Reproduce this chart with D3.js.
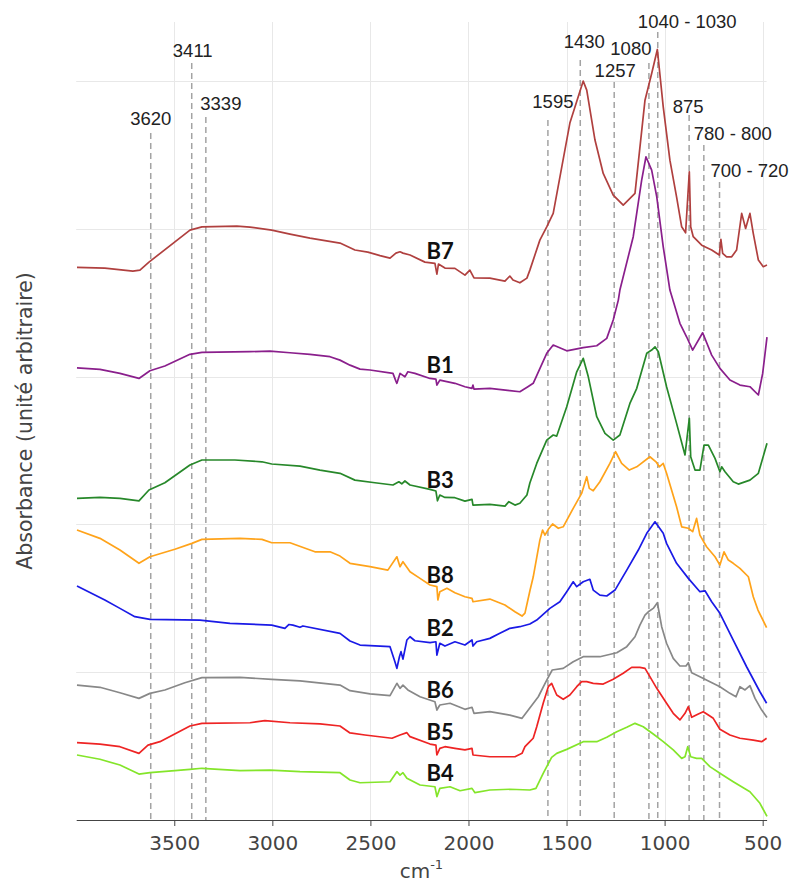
<!DOCTYPE html>
<html>
<head>
<meta charset="utf-8">
<script src="https://cdn.jsdelivr.net/npm/d3@7"></script>
<style>
  body { margin: 0; background: #fff; }
  svg { display: block; }
</style>
</head>
<body>
<svg id="chart" width="792" height="886"></svg>
<script>
// FTIR spectra, stacked with arbitrary vertical offsets: [wavenumber (cm-1), absorbance (a.u.)]
const B7 = [[3996,3.74],[3854,3.735],[3711,3.714],[3675,3.721],[3629,3.775],[3420,3.992],[3359,4.014],[3181,4.019],[3114,4.012],[3003,3.992],[2910,3.965],[2808,3.938],[2655,3.904],[2579,3.857],[2513,3.843],[2451,3.819],[2400,3.802],[2370,3.836],[2349,3.845],[2334,3.836],[2298,3.823],[2222,3.775],[2171,3.767],[2161,3.694],[2153,3.762],[2120,3.735],[2069,3.733],[2018,3.687],[1993,3.721],[1972,3.669],[1891,3.667],[1814,3.647],[1789,3.681],[1773,3.654],[1738,3.635],[1702,3.667],[1687,3.721],[1636,3.924],[1601,4.014],[1568,4.105],[1483,4.716],[1415,5.0],[1397,4.939],[1355,4.601],[1313,4.375],[1262,4.229],[1211,4.161],[1151,4.24],[1100,4.871],[1066,5.052],[1037,5.214],[1007,4.826],[973,4.465],[939,4.217],[913,4.014],[893,3.974],[874,4.386],[867,4.014],[854,3.947],[811,3.89],[760,3.857],[721,3.823],[713,3.929],[704,3.834],[684,3.811],[658,3.811],[633,3.857],[607,4.105],[587,4.003],[565,4.105],[548,3.97],[522,3.789],[497,3.744],[478,3.755]];

const B1 = [[3996,3.06],[3879,3.049],[3777,3.022],[3680,2.988],[3624,3.04],[3548,3.072],[3420,3.151],[3359,3.164],[3114,3.169],[3012,3.173],[2910,3.162],[2808,3.151],[2706,3.135],[2655,3.112],[2604,3.078],[2553,3.051],[2502,3.045],[2385,3.022],[2370,2.97],[2365,2.955],[2349,3.022],[2324,2.999],[2309,3.033],[2273,3.022],[2196,2.988],[2166,2.984],[2161,2.943],[2146,2.977],[2069,2.955],[2018,2.932],[1982,2.921],[1977,2.943],[1972,2.916],[1891,2.921],[1789,2.905],[1738,2.898],[1697,2.932],[1670,2.955],[1601,3.158],[1568,3.214],[1499,3.175],[1415,3.196],[1346,3.209],[1295,3.259],[1262,3.383],[1236,3.518],[1228,3.586],[1160,3.947],[1117,4.33],[1095,4.488],[1066,4.398],[1040,4.217],[1007,3.879],[973,3.586],[922,3.361],[888,3.27],[857,3.18],[806,3.297],[760,3.146],[718,3.056],[667,2.977],[616,2.943],[565,2.932],[522,2.876],[500,3.022],[478,3.268]];

const B3 = [[3996,2.177],[3879,2.183],[3777,2.177],[3680,2.16],[3629,2.233],[3548,2.282],[3420,2.402],[3359,2.436],[3191,2.436],[3053,2.424],[3003,2.409],[2859,2.395],[2757,2.368],[2655,2.346],[2579,2.3],[2477,2.282],[2385,2.267],[2355,2.289],[2340,2.275],[2324,2.294],[2298,2.267],[2196,2.237],[2166,2.226],[2158,2.16],[2146,2.199],[2120,2.183],[2069,2.181],[2018,2.158],[1982,2.17],[1977,2.131],[1891,2.136],[1814,2.124],[1794,2.154],[1763,2.131],[1738,2.143],[1702,2.199],[1687,2.28],[1652,2.413],[1601,2.571],[1568,2.605],[1550,2.598],[1499,2.796],[1448,3.033],[1415,3.124],[1389,2.999],[1346,2.729],[1304,2.616],[1262,2.571],[1228,2.605],[1177,2.819],[1142,2.921],[1091,3.158],[1066,3.18],[1049,3.202],[1032,3.169],[990,2.932],[939,2.684],[896,2.47],[874,2.718],[867,2.458],[845,2.368],[820,2.368],[799,2.537],[777,2.537],[743,2.447],[718,2.357],[709,2.39],[692,2.357],[650,2.289],[624,2.273],[565,2.3],[522,2.346],[478,2.549]];

const B8 = [[3996,1.962],[3879,1.906],[3777,1.827],[3680,1.737],[3624,1.781],[3497,1.832],[3410,1.872],[3359,1.899],[3165,1.906],[3053,1.899],[3003,1.876],[2910,1.876],[2783,1.815],[2706,1.815],[2655,1.786],[2604,1.737],[2502,1.714],[2411,1.691],[2365,1.781],[2349,1.714],[2334,1.748],[2298,1.68],[2247,1.635],[2196,1.59],[2161,1.579],[2156,1.489],[2146,1.545],[2110,1.568],[2069,1.538],[2018,1.511],[1982,1.5],[1977,1.477],[1891,1.495],[1814,1.455],[1763,1.409],[1727,1.38],[1712,1.4],[1687,1.55],[1670,1.644],[1636,1.894],[1622,1.962],[1610,1.928],[1593,1.967],[1571,2.003],[1542,1.974],[1517,1.984],[1466,2.109],[1423,2.21],[1397,2.323],[1384,2.244],[1364,2.228],[1330,2.289],[1279,2.413],[1250,2.492],[1219,2.413],[1180,2.368],[1142,2.39],[1075,2.458],[1044,2.424],[1027,2.39],[1007,2.413],[990,2.346],[939,2.12],[913,1.984],[879,1.974],[857,1.951],[837,2.041],[820,1.928],[786,1.849],[743,1.781],[718,1.725],[697,1.815],[675,1.759],[650,1.737],[616,1.703],[573,1.646],[548,1.511],[524,1.421],[480,1.302]];

const B2 = [[3996,1.583],[3854,1.489],[3777,1.432],[3701,1.376],[3624,1.358],[3369,1.353],[3216,1.331],[3003,1.319],[2936,1.297],[2915,1.323],[2895,1.319],[2859,1.304],[2844,1.313],[2655,1.263],[2604,1.211],[2553,1.184],[2400,1.173],[2375,1.071],[2365,1.026],[2352,1.105],[2344,1.139],[2334,1.089],[2314,1.218],[2298,1.24],[2273,1.213],[2196,1.2],[2166,1.206],[2161,1.116],[2146,1.196],[2120,1.177],[2069,1.206],[2018,1.184],[1982,1.218],[1977,1.177],[1958,1.206],[1891,1.229],[1840,1.263],[1789,1.297],[1738,1.308],[1687,1.326],[1652,1.353],[1585,1.432],[1534,1.477],[1499,1.545],[1466,1.612],[1448,1.579],[1415,1.612],[1381,1.629],[1364,1.556],[1330,1.522],[1295,1.516],[1253,1.556],[1193,1.691],[1134,1.827],[1091,1.94],[1049,2.018],[1007,1.94],[990,1.872],[939,1.737],[879,1.635],[820,1.545],[794,1.551],[760,1.477],[718,1.399],[650,1.218],[582,1.037],[514,0.868],[480,0.79]];

const B6 = [[3996,0.913],[3879,0.898],[3777,0.861],[3680,0.823],[3624,0.857],[3548,0.88],[3446,0.929],[3359,0.963],[3165,0.965],[3003,0.952],[2859,0.942],[2655,0.913],[2604,0.875],[2502,0.853],[2400,0.842],[2365,0.925],[2349,0.891],[2334,0.913],[2309,0.88],[2247,0.834],[2171,0.8],[2161,0.744],[2146,0.778],[2094,0.79],[2018,0.749],[1982,0.763],[1972,0.722],[1891,0.733],[1789,0.71],[1727,0.688],[1695,0.744],[1644,0.834],[1601,0.947],[1573,1.015],[1517,1.026],[1466,1.071],[1415,1.105],[1330,1.105],[1244,1.132],[1193,1.173],[1151,1.24],[1126,1.319],[1100,1.387],[1083,1.409],[1058,1.432],[1037,1.47],[1015,1.308],[990,1.196],[956,1.094],[922,1.042],[891,1.042],[879,1.064],[862,0.997],[820,0.97],[769,0.936],[718,0.902],[667,0.857],[636,0.834],[616,0.902],[590,0.88],[565,0.909],[539,0.823],[505,0.744],[478,0.694]];

const B5 = [[3996,0.523],[3879,0.514],[3777,0.496],[3680,0.451],[3634,0.507],[3573,0.53],[3420,0.636],[3359,0.654],[3114,0.658],[3038,0.672],[2910,0.658],[2757,0.65],[2655,0.636],[2604,0.589],[2528,0.575],[2390,0.553],[2349,0.575],[2314,0.591],[2298,0.564],[2196,0.514],[2166,0.507],[2161,0.44],[2146,0.485],[2120,0.496],[2069,0.485],[2018,0.474],[1982,0.485],[1977,0.44],[1891,0.428],[1763,0.428],[1727,0.451],[1712,0.496],[1687,0.53],[1670,0.553],[1652,0.631],[1619,0.79],[1593,0.902],[1576,0.925],[1550,0.846],[1517,0.817],[1483,0.846],[1448,0.902],[1423,0.936],[1397,0.936],[1364,0.925],[1313,0.92],[1262,0.952],[1211,0.993],[1168,1.033],[1126,1.033],[1100,1.026],[1075,0.97],[1040,0.891],[990,0.79],[956,0.722],[922,0.677],[896,0.722],[879,0.767],[862,0.695],[828,0.717],[803,0.733],[777,0.71],[752,0.688],[718,0.614],[667,0.575],[616,0.553],[548,0.541],[505,0.53],[480,0.553]];

const B4 = [[3996,0.44],[3879,0.411],[3777,0.372],[3680,0.311],[3624,0.32],[3497,0.334],[3420,0.343],[3359,0.35],[3165,0.334],[3012,0.338],[2859,0.327],[2655,0.32],[2604,0.271],[2553,0.252],[2400,0.259],[2365,0.327],[2349,0.304],[2334,0.32],[2314,0.282],[2247,0.237],[2171,0.225],[2161,0.158],[2146,0.214],[2094,0.225],[2043,0.198],[1982,0.214],[1967,0.185],[1891,0.203],[1789,0.208],[1687,0.203],[1656,0.214],[1619,0.316],[1576,0.424],[1550,0.451],[1499,0.478],[1415,0.53],[1346,0.53],[1295,0.56],[1244,0.597],[1193,0.627],[1151,0.654],[1109,0.631],[1058,0.582],[1007,0.53],[956,0.474],[913,0.417],[896,0.428],[882,0.496],[867,0.428],[837,0.417],[811,0.417],[769,0.361],[718,0.316],[650,0.259],[565,0.191],[514,0.113],[478,0.024]];

const seriesNames  = ["B7", "B1", "B3", "B8", "B2", "B6", "B5", "B4"];
const seriesData   = [B7, B1, B3, B8, B2, B6, B5, B4];
const seriesColors = ["#b0403f", "#8a1f8c", "#27882a", "#ffa31a", "#1a1ae6", "#888888", "#ee2424", "#84e52a"];
// where each series name is written: wavenumber and absorbance level
const nameWavenumber = 2145;
const nameLevels = [3.85, 3.078, 2.30, 1.658, 1.299, 0.880, 0.595, 0.318];

// band assignments marked with dashed lines
const bandLabels    = ["3620", "3411", "3339", "1595", "1430", "1257", "1080", "1040 - 1030", "875", "780 - 800", "700 - 720"];
const bandPositions = [3620, 3411, 3339, 1595, 1430, 1257, 1080, 1035, 875, 800, 720];

const xTicks = [3500, 3000, 2500, 2000, 1500, 1000, 500];
const yGrid  = [1, 2, 3, 4, 5];

// ---- layout ----
const svg = d3.select("#chart");
const plot = { left: 76.2, right: 766.6, top: 22, bottom: 820 };

const x = d3.scaleLinear().domain([4000, 480]).range([plot.left, plot.right]);
const y = d3.scaleLinear().domain([0, 5.4]).range([plot.bottom, plot.top]);

// band label placement: horizontal shift from its line, text baseline, line top (px)
const bandLayout = [
  { dx: 0,   base: 125, top: 133 },
  { dx: 1,   base: 57,  top: 63 },
  { dx: 15,  base: 110, top: 117 },
  { dx: 5,   base: 108, top: 120 },
  { dx: 4,   base: 48,  top: 60 },
  { dx: 1,   base: 77,  top: 82 },
  { dx: -18, base: 55,  top: 63 },
  { dx: 29.5,base: 28,  top: 32 },
  { dx: -1,  base: 113, top: 115 },
  { dx: 29,  base: 140, top: 145 },
  { dx: 30,  base: 177, top: 182 }
];

// grid
const grid = svg.append("g").attr("class", "grid");
grid.selectAll("line.v").data(xTicks).join("line")
  .attr("class", "v")
  .attr("x1", d => Math.round(x(d)) + 0.5).attr("x2", d => Math.round(x(d)) + 0.5)
  .attr("y1", plot.top).attr("y2", plot.bottom)
  .attr("stroke", "#e8e8e8").attr("stroke-width", 1);
grid.selectAll("line.h").data(yGrid).join("line")
  .attr("class", "h")
  .attr("x1", plot.left).attr("x2", plot.right)
  .attr("y1", d => Math.round(y(d)) + 0.5).attr("y2", d => Math.round(y(d)) + 0.5)
  .attr("stroke", "#e8e8e8").attr("stroke-width", 1);

// dashed band markers
const bands = svg.append("g").attr("class", "bands");
bands.selectAll("line").data(bandPositions).join("line")
  .attr("x1", d => x(d)).attr("x2", d => x(d))
  .attr("y1", (d, i) => bandLayout[i].top).attr("y2", plot.bottom)
  .attr("stroke", "#a3a3a3").attr("stroke-width", 1.5)
  .attr("stroke-dasharray", "6,4");
bands.selectAll("text").data(bandLabels).join("text")
  .attr("x", (d, i) => x(bandPositions[i]) + bandLayout[i].dx)
  .attr("y", (d, i) => bandLayout[i].base)
  .attr("text-anchor", "middle")
  .attr("font-family", "'Liberation Sans', Arial, sans-serif")
  .attr("font-size", 18.5)
  .attr("fill", "#222")
  .text(d => d);

// spectra
const line = d3.line().x(d => x(d[0])).y(d => y(d[1]));
svg.append("g").attr("class", "spectra")
  .selectAll("path").data(seriesData).join("path")
  .attr("d", line)
  .attr("fill", "none")
  .attr("stroke", (d, i) => seriesColors[i])
  .attr("stroke-width", 1.7)
  .attr("stroke-linejoin", "round");

// series names
svg.append("g").attr("class", "names")
  .selectAll("text").data(seriesNames).join("text")
  .attr("x", x(nameWavenumber))
  .attr("y", (d, i) => y(nameLevels[i]))
  .attr("dy", "0.36em")
  .attr("text-anchor", "middle")
  .attr("font-family", "Lato, 'Open Sans', sans-serif")
  .attr("font-weight", 700)
  .attr("font-size", 22)
  .attr("fill", "#111")
  .text(d => d);

// x axis
const axis = svg.append("g")
  .attr("transform", `translate(0,${plot.bottom})`)
  .call(d3.axisBottom(x).tickValues(xTicks).tickSize(6).tickSizeOuter(0).tickPadding(10).tickFormat(d3.format("d")));
axis.select(".domain").attr("stroke", "#444");
axis.selectAll(".tick line").attr("stroke", "#444");
axis.selectAll(".tick text")
  .attr("font-family", "'DejaVu Sans', Verdana, sans-serif")
  .attr("font-size", 20)
  .attr("fill", "#444");

// axis titles
const xTitle = svg.append("text")
  .attr("x", (plot.left + plot.right) / 2)
  .attr("y", 878)
  .attr("text-anchor", "middle")
  .attr("font-family", "'DejaVu Sans', Verdana, sans-serif")
  .attr("font-size", 20)
  .attr("fill", "#444");
xTitle.append("tspan").text("cm");
xTitle.append("tspan").attr("dy", -9).attr("font-size", 13).text("-1");

svg.append("text")
  .attr("transform", `translate(32,${(plot.top + plot.bottom) / 2}) rotate(-90)`)
  .attr("text-anchor", "middle")
  .attr("font-family", "'DejaVu Sans', Verdana, sans-serif")
  .attr("font-size", 20.5)
  .attr("fill", "#444")
  .text("Absorbance (unité arbitraire)");
</script>
</body>
</html>
